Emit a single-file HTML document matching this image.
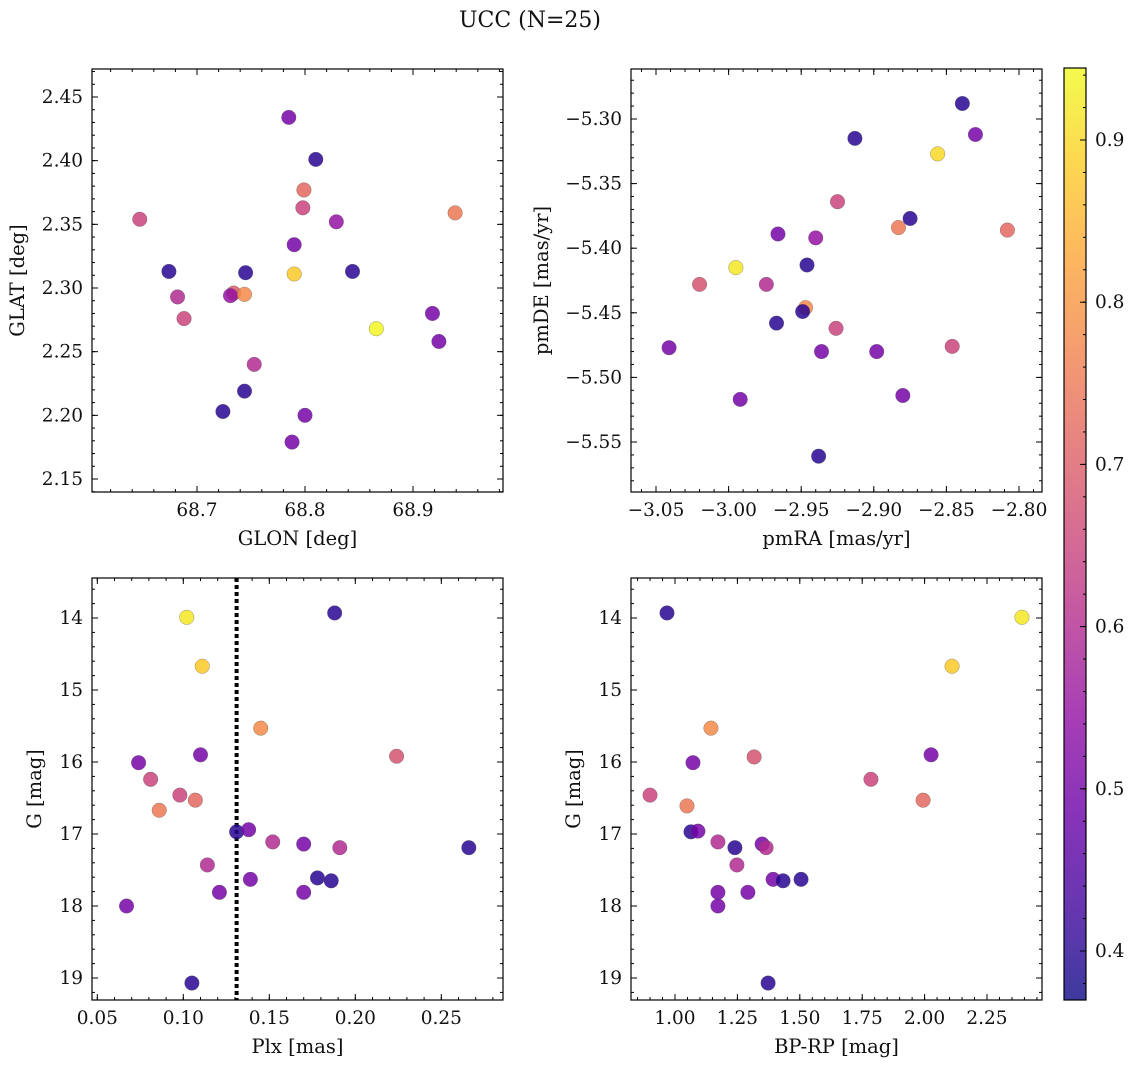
<!DOCTYPE html>
<html><head><meta charset="utf-8"><style>
html,body{margin:0;padding:0;background:#fff;}
svg{display:block;font-family:"DejaVu Serif","Liberation Serif",serif;}
</style></head><body>
<svg id="fig" width="1136" height="1068" viewBox="0 0 1136 1068" xmlns="http://www.w3.org/2000/svg">
<defs>
<linearGradient id="cbgrad" x1="0" y1="1" x2="0" y2="0"></linearGradient>
</defs>
<text x="530" y="27" text-anchor="middle" font-size="22" fill="#111">UCC (N=25)</text>
</svg>
<script>
// ---- data ----
const glon = [68.785,68.810,68.799,68.798,68.829,68.647,68.939,68.790,68.674,68.745,68.844,68.790,68.682,68.734,68.731,68.744,68.688,68.866,68.918,68.924,68.753,68.744,68.724,68.800,68.788];
const glat = [2.434,2.401,2.377,2.363,2.352,2.354,2.359,2.334,2.313,2.312,2.313,2.311,2.293,2.296,2.294,2.295,2.276,2.268,2.280,2.258,2.240,2.219,2.203,2.200,2.179];
const probA = [0.5,0.4,0.72,0.65,0.55,0.65,0.75,0.5,0.4,0.4,0.4,0.88,0.6,0.7,0.55,0.78,0.65,0.94,0.5,0.5,0.6,0.4,0.4,0.5,0.5];

const pmra = [-2.839,-2.830,-2.913,-2.856,-2.925,-2.883,-2.875,-2.808,-2.966,-2.940,-2.946,-2.995,-3.020,-2.974,-2.947,-2.949,-2.967,-2.926,-2.846,-3.041,-2.936,-2.898,-2.880,-2.992,-2.938];
const pmde = [-5.288,-5.312,-5.315,-5.327,-5.364,-5.384,-5.377,-5.386,-5.389,-5.392,-5.413,-5.415,-5.428,-5.428,-5.446,-5.449,-5.458,-5.462,-5.476,-5.477,-5.480,-5.480,-5.514,-5.517,-5.561];
const probB = [0.4,0.5,0.4,0.9,0.65,0.75,0.4,0.72,0.5,0.55,0.4,0.92,0.68,0.6,0.78,0.4,0.4,0.65,0.65,0.5,0.5,0.5,0.5,0.5,0.4];

const plx = [0.102,0.188,0.111,0.145,0.224,0.110,0.074,0.081,0.098,0.107,0.086,0.131,0.138,0.152,0.170,0.191,0.266,0.114,0.139,0.178,0.186,0.121,0.170,0.067,0.105];
const gmagC = [13.99,13.93,14.67,15.53,15.92,15.90,16.01,16.24,16.46,16.53,16.67,16.97,16.94,17.11,17.14,17.19,17.19,17.43,17.63,17.61,17.65,17.81,17.81,18.00,19.07];
const probC = [0.92,0.4,0.88,0.78,0.68,0.5,0.5,0.65,0.65,0.72,0.75,0.4,0.5,0.6,0.5,0.6,0.4,0.6,0.5,0.4,0.4,0.5,0.5,0.5,0.4];

const bprp = [0.968,2.390,2.110,1.144,1.317,2.026,1.072,1.785,0.900,1.994,1.048,1.064,1.092,1.172,1.349,1.365,1.240,1.248,1.393,1.433,1.505,1.172,1.292,1.172,1.373];
const gmagD = [13.93,13.99,14.67,15.53,15.93,15.90,16.01,16.24,16.46,16.53,16.61,16.97,16.96,17.11,17.14,17.19,17.19,17.43,17.63,17.65,17.63,17.81,17.81,18.00,19.07];
const probD = [0.4,0.92,0.88,0.78,0.68,0.5,0.5,0.65,0.65,0.72,0.75,0.4,0.5,0.6,0.5,0.6,0.4,0.6,0.5,0.4,0.4,0.5,0.5,0.5,0.4];

const plxLine = [0.131];
const ticksA_x = [68.7,68.8,68.9], ticksA_y = [2.15,2.20,2.25,2.30,2.35,2.40,2.45];
const ticksB_x = [-3.05,-3.00,-2.95,-2.90,-2.85,-2.80], ticksB_y = [-5.55,-5.50,-5.45,-5.40,-5.35,-5.30];
const ticksC_x = [0.05,0.10,0.15,0.20,0.25], ticksG = [14,15,16,17,18,19];
const ticksD_x = [1.00,1.25,1.50,1.75,2.00,2.25];
const cbTicks = [0.4,0.5,0.6,0.7,0.8,0.9];
const vmin = 0.37, vmax = 0.944;

// ---- helpers ----
const NS = "http://www.w3.org/2000/svg";
const svg = document.getElementById('fig');
function mk(tag, attrs, parent){ const e=document.createElementNS(NS,tag); for(const k in attrs) e.setAttribute(k,attrs[k]); (parent||svg).appendChild(e); return e; }
const PL = [[13,8,135],[65,4,157],[106,0,168],[143,13,164],[177,42,144],[204,71,120],[225,100,98],[242,132,75],[252,166,54],[252,206,37],[240,249,33]];
function plasma(t){ t=Math.max(0,Math.min(1,t)); const s=t*10, i=Math.min(9,Math.floor(s)), f=s-i; const a=PL[i], b=PL[i+1];
  return 'rgb('+a.map((v,k)=>Math.round(v+(b[k]-v)*f)).join(',')+')'; }
function fmt(v,d){ const s=Math.abs(v).toFixed(d); return (v<0?'\u2212':'')+s; }

function panel(cfg){
  const g = mk('g',{});
  
  
  const {L,R,T,B,x0,x1,y0,y1,inv} = cfg;
  const sx = v => L + (v-x0)/(x1-x0)*(R-L);
  const sy = v => inv ? T + (v-y0)/(y1-y0)*(B-T) : B - (v-y0)/(y1-y0)*(B-T);
  const tg = mk('g',{stroke:'#000','stroke-width':1},g);
  function xt(v,len){ const x=sx(v); if(x<L-0.5||x>R+0.5) return; mk('line',{x1:x,x2:x,y1:B,y2:B-len},tg); mk('line',{x1:x,x2:x,y1:T,y2:T+len},tg); }
  function yt(v,len){ const y=sy(v); if(y<T-0.5||y>B+0.5) return; mk('line',{x1:L,x2:L+len,y1:y,y2:y},tg); mk('line',{x1:R,x2:R-len,y1:y,y2:y},tg); }
  for(let v=Math.ceil(x0/cfg.xminor)*cfg.xminor; v<=x1; v+=cfg.xminor) xt(v,3);
  for(let v=Math.ceil(Math.min(y0,y1)/cfg.yminor)*cfg.yminor; v<=Math.max(y0,y1); v+=cfg.yminor) yt(v,3);
  cfg.xt.forEach(v=>{ xt(v,6);
    const t=mk('text',{x:sx(v),y:B+24,'text-anchor':'middle','font-size':18.5,fill:'#111'},g); t.textContent=fmt(v,cfg.xd);
      });
  cfg.yt.forEach(v=>{ yt(v,6);
    const t=mk('text',{x:L-9,y:sy(v)+6,'text-anchor':'end','font-size':18.5,fill:'#111'},g); t.textContent=fmt(v,cfg.yd);
      });
  if(cfg.vline){ cfg.vline.forEach(v=>{ const l=mk('line',{x1:sx(v),x2:sx(v),y1:T,y2:B,stroke:'#000','stroke-width':4,'stroke-dasharray':'4 3'},g);
      }); }
  cfg.xs.forEach((xv,i)=>{
    const c=mk('circle',{cx:sx(xv),cy:sy(cfg.ys[i]),r:7.3,fill:plasma((cfg.p[i]-vmin)/(vmax-vmin)),'fill-opacity':0.85,stroke:'#555','stroke-opacity':0.6,'stroke-width':0.5},g);
    
    
  });
  const fr=mk('rect',{x:L,y:T,width:R-L,height:B-T,fill:'none',stroke:'#000','stroke-width':1.2},g);
   
  const xl=mk('text',{x:(L+R)/2,y:B+53,'text-anchor':'middle','font-size':19.5,fill:'#111'},g); xl.textContent=cfg.xlabel;
   
  const yx=cfg.ylx, yy=(T+B)/2;
  const yl=mk('text',{x:yx,y:yy,'text-anchor':'middle','font-size':19.5,fill:'#111',transform:'rotate(-90 '+yx+' '+yy+')'},g); yl.textContent=cfg.ylabel;
   
}

panel({name:'glon-glat-panel',L:92,R:503,T:69,B:492,x0:68.7-(197-92)/1080,x1:68.7+(503-197)/1080,
  y0:2.15-(492-479)/1273,y1:2.45+(97-69)/1273,xs:glon,ys:glat,p:probA,xt:ticksA_x,yt:ticksA_y,xd:1,yd:2,
  xminor:0.02,yminor:0.01,xlabel:'GLON [deg]',ylabel:'GLAT [deg]',ylx:24});
panel({name:'pmra-pmde-panel',L:631,R:1042,T:69,B:492,x0:-3.05-(656-631)/1452,x1:-3.05+(1042-656)/1452,
  y0:-5.30-(492-119)/1292,y1:-5.30+(119-69)/1292,xs:pmra,ys:pmde,p:probB,xt:ticksB_x,yt:ticksB_y,xd:2,yd:2,
  xminor:0.01,yminor:0.01,xlabel:'pmRA [mas/yr]',ylabel:'pmDE [mas/yr]',ylx:548});
panel({name:'plx-g-panel',L:92,R:503,T:578,B:1000,x0:0.10-(183.3-92)/1720,x1:0.10+(503-183.3)/1720,
  y0:14-(618-578)/72,y1:19+(1000-978)/72,inv:true,xs:plx,ys:gmagC,p:probC,xt:ticksC_x,yt:ticksG,xd:2,yd:0,
  xminor:0.01,yminor:0.2,xlabel:'Plx [mas]',ylabel:'G [mag]',ylx:41,vline:plxLine});
panel({name:'bprp-g-panel',L:631,R:1042,T:578,B:1000,x0:1-(675-631)/249.6,x1:1+(1042-675)/249.6,
  y0:14-(618-578)/72,y1:19+(1000-978)/72,inv:true,xs:bprp,ys:gmagD,p:probD,xt:ticksD_x,yt:ticksG,xd:2,yd:0,
  xminor:0.05,yminor:0.2,xlabel:'BP-RP [mag]',ylabel:'G [mag]',ylx:580});

// Colorbar
const grad=document.getElementById('cbgrad');
for(let i=0;i<=20;i++){ mk('stop',{offset:(i/20),'stop-color':plasma(i/20),'stop-opacity':0.8},grad); }
const cbT=68, cbB=1000, cbL=1064, cbR=1086;
const cbv = v => 951 - (v-0.4)*1622;
const cbg=mk('g',{});


mk('rect',{x:cbL,y:cbT,width:cbR-cbL,height:cbB-cbT,fill:'url(#cbgrad)'},cbg);
for(let v=0.38; v<0.945; v+=0.02){ const y=cbv(v); if(y>cbT&&y<cbB) mk('line',{x1:cbR,x2:cbR-3,y1:y,y2:y,stroke:'#000','stroke-width':1},cbg); }
cbTicks.forEach(v=>{ const y=cbv(v); mk('line',{x1:cbR,x2:cbR-6,y1:y,y2:y,stroke:'#000','stroke-width':1},cbg);
  const t=mk('text',{x:cbR+9,y:y+6,'font-size':18.5,fill:'#111'},cbg); t.textContent=v.toFixed(1);
    });
mk('rect',{x:cbL,y:cbT,width:cbR-cbL,height:cbB-cbT,fill:'none',stroke:'#000','stroke-width':1.2},cbg);
</script>
</body></html>
